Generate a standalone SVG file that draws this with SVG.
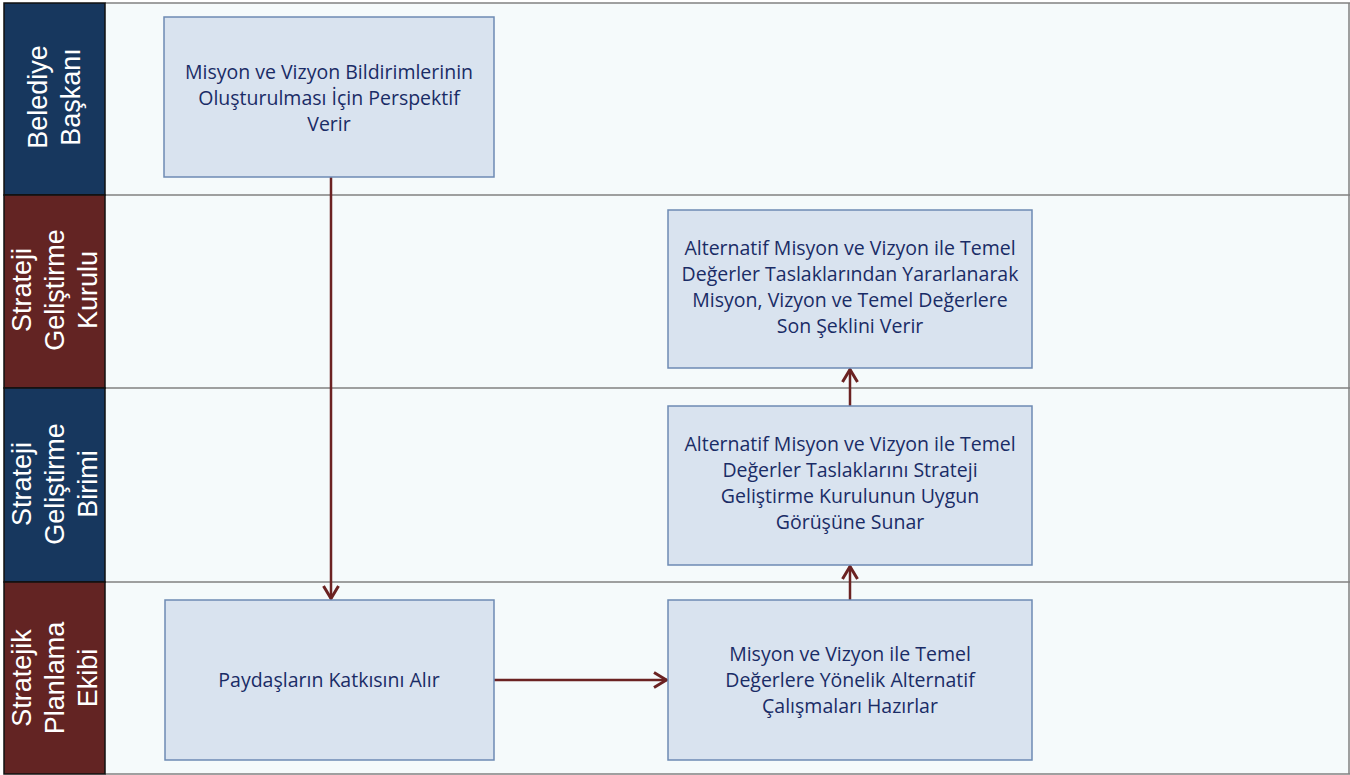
<svg xmlns="http://www.w3.org/2000/svg" width="1350" height="775" viewBox="0 0 1350 775">
<style>
.lane{fill:#F5FAFB;}
.sep{stroke:#808080;stroke-width:1.5;fill:none;}
.navy{fill:#17375E;stroke:#111;stroke-width:1.5;}
.maroon{fill:#632423;stroke:#111;stroke-width:1.5;}
.lbl{font-family:"Liberation Sans",Arial,sans-serif;font-size:27px;fill:#FFFFFF;text-anchor:middle;}
.box{fill:#D9E3EF;stroke:#6D8AB4;stroke-width:1.5;}
.txt{font-family:"Open Sans","Liberation Sans",sans-serif;font-size:19.5px;fill:#1A2C66;text-anchor:middle;}
.conn{stroke:#6B2222;stroke-width:2.5;fill:none;marker-end:url(#ah);}
</style>
<defs>
<marker id="ah" viewBox="0 0 16 18" refX="15" refY="9" markerWidth="16" markerHeight="18" markerUnits="userSpaceOnUse" orient="auto">
<path d="M2,1.5 L14.5,9 L2,16.5" fill="none" stroke="#6B2222" stroke-width="3"/>
</marker>
</defs>
<rect x="0" y="0" width="1350" height="775" fill="#FFFFFF"/>
<rect class="lane" x="105" y="3" width="1245" height="771"/>
<g id="lanes">
<line class="sep" x1="105" y1="3" x2="1350" y2="3"/>
<line class="sep" x1="105" y1="195" x2="1350" y2="195"/>
<line class="sep" x1="105" y1="388" x2="1350" y2="388"/>
<line class="sep" x1="105" y1="582" x2="1350" y2="582"/>
<line class="sep" x1="1349" y1="3" x2="1349" y2="774"/>
<line class="sep" x1="105" y1="774" x2="1350" y2="774"/>
</g>
<g id="lane-belediye">
<rect class="navy" x="4" y="3" width="101" height="192"/>
<text class="lbl" transform="translate(38,97) rotate(-90)" y="9">Belediye</text>
<text class="lbl" transform="translate(71,97) rotate(-90)" y="9">Başkanı</text>
</g>
<g id="lane-kurul">
<rect class="maroon" x="4" y="195" width="101" height="193"/>
<text class="lbl" transform="translate(22,290) rotate(-90)" y="9">Strateji</text>
<text class="lbl" transform="translate(55,290) rotate(-90)" y="9">Geliştirme</text>
<text class="lbl" transform="translate(88,290) rotate(-90)" y="9">Kurulu</text>
</g>
<g id="lane-birim">
<rect class="navy" x="4" y="388" width="101" height="194"/>
<text class="lbl" transform="translate(22,484) rotate(-90)" y="9">Strateji</text>
<text class="lbl" transform="translate(55,484) rotate(-90)" y="9">Geliştirme</text>
<text class="lbl" transform="translate(88,484) rotate(-90)" y="9">Birimi</text>
</g>
<g id="lane-ekip">
<rect class="maroon" x="4" y="582" width="101" height="192"/>
<text class="lbl" transform="translate(22,678) rotate(-90)" y="9">Stratejik</text>
<text class="lbl" transform="translate(55,678) rotate(-90)" y="9">Planlama</text>
<text class="lbl" transform="translate(88,678) rotate(-90)" y="9">Ekibi</text>
</g>
<g id="connectors">
<line class="conn" x1="331" y1="177" x2="331" y2="599"/>
<line class="conn" x1="494" y1="680" x2="667" y2="680"/>
<line class="conn" x1="850" y1="600" x2="850" y2="566"/>
<line class="conn" x1="850" y1="406" x2="850" y2="369"/>
</g>
<g id="n1">
<rect class="box" x="164" y="17" width="330" height="160"/>
<text class="txt"><tspan x="329" y="79">Misyon ve Vizyon Bildirimlerinin</tspan><tspan x="329" y="105">Oluşturulması İçin Perspektif</tspan><tspan x="329" y="131">Verir</tspan></text>
</g>
<g id="n2">
<rect class="box" x="668" y="210" width="364" height="158"/>
<text class="txt"><tspan x="850" y="255">Alternatif Misyon ve Vizyon ile Temel</tspan><tspan x="850" y="281">Değerler Taslaklarından Yararlanarak</tspan><tspan x="850" y="307">Misyon, Vizyon ve Temel Değerlere</tspan><tspan x="850" y="333">Son Şeklini Verir</tspan></text>
</g>
<g id="n3">
<rect class="box" x="668" y="406" width="364" height="159"/>
<text class="txt"><tspan x="850" y="451">Alternatif Misyon ve Vizyon ile Temel</tspan><tspan x="850" y="477">Değerler Taslaklarını Strateji</tspan><tspan x="850" y="503">Geliştirme Kurulunun Uygun</tspan><tspan x="850" y="529">Görüşüne Sunar</tspan></text>
</g>
<g id="n4">
<rect class="box" x="165" y="600" width="329" height="160"/>
<text class="txt"><tspan x="329" y="687">Paydaşların Katkısını Alır</tspan></text>
</g>
<g id="n5">
<rect class="box" x="668" y="600" width="364" height="160"/>
<text class="txt"><tspan x="850" y="661">Misyon ve Vizyon ile Temel</tspan><tspan x="850" y="687">Değerlere Yönelik Alternatif</tspan><tspan x="850" y="713">Çalışmaları Hazırlar</tspan></text>
</g>
</svg>
